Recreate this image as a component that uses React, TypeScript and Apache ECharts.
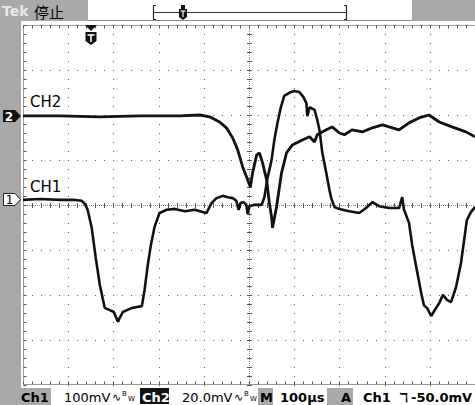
import React, { useEffect, useRef } from "react";
import * as echarts from "echarts";

// Time base: 100 µs/div, 10 divisions, centre of screen = 0 µs
const ch1TimeUs = [
  -500, -462, -418, -385, -370, -363, -357, -348, -339, -330, -323, -319, -308, -299, -290, -286,
  -279, -270, -259, -248, -237, -231, -224, -217, -209, -198, -182, -164, -142, -120, -103, -94,
  -83, -72, -58, -47, -36, -28, -23, -19, -12, -6, -3, 1, 12, 28, 34, 41, 50, 56, 63, 70, 78, 89,
  100, 111, 120, 127, 129, 134, 145, 151, 156, 162, 171, 178, 182, 189, 200, 222, 244, 259, 273,
  288, 310, 332, 339, 343, 354, 361, 370, 381, 387, 394, 403, 414, 421, 429, 438, 447, 458, 469,
  476, 482, 491, 500,
];
// CH1: 100 mV/div
const ch1mV = [
  -2, 0, -2, -2, -4, -11, -24, -64, -131, -191, -224, -242, -247, -251, -273, -264,
  -251, -247, -242, -240, -238, -202, -147, -102, -62, -31, -24, -22, -27, -24, -29, -31,
  -9, 2, 7, 4, 2, -4, -24, -9, -7, -13, -33, -16, -13, -13, 4, 47, 87, 131, 169, 202, 229, 236,
  240, 238, 227, 213, 184, 204, 198, 176, 153, 104, 58, 20, 2, -18, -22, -27, -31, -20, -7,
  -16, -20, -20, 4, -24, -53, -102, -151, -209, -236, -242, -260, -242, -231, -213, -224, -229, -196, -142,
  -91, -47, -29, -18,
];

const ch2TimeUs = [
  -500, -418, -330, -242, -153, -109, -87, -65, -50, -36, -25, -14, -3, 3, 8, 17, 23, 30, 39, 45,
  50, 52, 61, 72, 83, 96, 118, 134, 145, 151, 171, 184, 200, 211, 228, 251, 273, 295, 310, 332,
  354, 376, 398, 421, 449, 480, 500,
];
// CH2: 20 mV/div
const ch2mV = [
  0, 0, -0.4, 0, 0, 0.4, -0.4, -2.7, -5.3, -9.8, -15.1, -22.7, -28.4, -31.6, -25.3, -17.3, -16.4, -20.9, -28.4, -38.7,
  -44.9, -49.8, -40.4, -25.3, -16.4, -12.9, -10.7, -9.3, -11.6, -8.4, -6.2, -4.9, -7.6, -8.4, -6.2, -7.1, -5.3, -4.0, -4.9, -6.2,
  -3.1, -0.9, 0.4, -2.7, -4.9, -7.1, -9.3,
];

const headerStatus = "停止";
const statusRow = {
  ch1Scale: "100mV",
  ch2Scale: "20.0mV",
  timeBase: "100µs",
  trigSource: "Ch1",
  trigLevel: "-50.0mV",
};

const GRAY = "#a9a9a9";
const FONT = '"DejaVu Sans", sans-serif';

function renderGraticule(params: any, api: any) {
  if (params.dataIndex !== 0) return null;
  const ch: any[] = [];
  const dot = "#5e5e5e";
  for (let i = -4; i <= 4; i++) {
    if (i === 0) continue;
    for (let j = -20; j <= 20; j++) {
      const p = api.coord([i * 100, j * 0.2]);
      ch.push({ type: "rect", shape: { x: Math.round(p[0]), y: Math.round(p[1]), width: 1, height: 1 }, style: { fill: dot } });
    }
  }
  for (let j = -3; j <= 3; j++) {
    if (j === 0) continue;
    for (let i = -25; i <= 25; i++) {
      const p = api.coord([i * 20, j]);
      ch.push({ type: "rect", shape: { x: Math.round(p[0]), y: Math.round(p[1]), width: 1, height: 1 }, style: { fill: dot } });
    }
  }
  const c = api.coord([0, 0]);
  const l = api.coord([-500, 0]);
  const r = api.coord([500, 0]);
  const t = api.coord([0, 4]);
  const b = api.coord([0, -4]);
  const cx = Math.round(c[0]) + 0.5;
  const cy = Math.round(c[1]) + 0.5;
  ch.push({ type: "line", shape: { x1: l[0], y1: cy, x2: r[0], y2: cy }, style: { stroke: "#8a8a8a", lineWidth: 1, lineDash: [1, 1] } });
  ch.push({ type: "line", shape: { x1: cx, y1: t[1], x2: cx, y2: b[1] }, style: { stroke: "#8a8a8a", lineWidth: 1, lineDash: [1, 1] } });
  for (let i = -25; i <= 25; i++) {
    const p = api.coord([i * 20, 0]);
    const x = Math.round(p[0]) + 0.5;
    ch.push({ type: "line", shape: { x1: x, y1: cy - 2.5, x2: x, y2: cy + 2.5 }, style: { stroke: "#555", lineWidth: 1 } });
  }
  for (let j = -20; j <= 20; j++) {
    const p = api.coord([0, j * 0.2]);
    const y = Math.round(p[1]) + 0.5;
    ch.push({ type: "line", shape: { x1: cx - 2.5, y1: y, x2: cx + 2.5, y2: y }, style: { stroke: "#555", lineWidth: 1 } });
  }
  const ty = Math.round(t[1]) + 0.5;
  const by = Math.round(b[1]) - 0.5;
  const lx = Math.round(l[0]) + 0.5;
  ch.push({ type: "line", shape: { x1: lx, y1: ty, x2: r[0], y2: ty }, style: { stroke: "#9a9a9a", lineWidth: 1 } });
  ch.push({ type: "line", shape: { x1: lx, y1: by, x2: r[0], y2: by }, style: { stroke: "#9a9a9a", lineWidth: 1 } });
  ch.push({ type: "line", shape: { x1: lx, y1: ty, x2: lx, y2: by }, style: { stroke: "#9a9a9a", lineWidth: 1 } });
  for (let i = -25; i <= 25; i++) {
    const p = api.coord([i * 20, 0]);
    const x = Math.round(p[0]) + 0.5;
    ch.push({ type: "line", shape: { x1: x, y1: ty, x2: x, y2: ty + 3 }, style: { stroke: "#555", lineWidth: 1 } });
    ch.push({ type: "line", shape: { x1: x, y1: by, x2: x, y2: by - 3 }, style: { stroke: "#555", lineWidth: 1 } });
  }
  for (let j = -20; j <= 20; j++) {
    const p = api.coord([0, j * 0.2]);
    const y = Math.round(p[1]) + 0.5;
    ch.push({ type: "line", shape: { x1: lx, y1: y, x2: lx + 3, y2: y }, style: { stroke: "#555", lineWidth: 1 } });
  }
  return { type: "group", children: ch };
}

function txt(x: number, y: number, text: string, size: number, fill = "#000", extra: any = {}) {
  return {
    type: "text",
    x,
    y,
    z: 100,
    style: { text, fill, font: `${extra.weight || "normal"} ${size}px ${extra.family || FONT}`, textAlign: extra.align || "left", textVerticalAlign: "middle" },
  };
}

export default function App() {
  const ref = useRef<HTMLDivElement>(null);
  useEffect(() => {
    if (!ref.current) return;
    const chart = echarts.init(ref.current, undefined, { renderer: "svg" });
    const ch1Data = ch1TimeUs.map((t, i) => [t, ch1mV[i]]);
    const ch2Data = ch2TimeUs.map((t, i) => [t, ch2mV[i]]);
    const SY = 397;
    const graphics: any[] = [
      { type: "rect", z: 90, shape: { x: 0, y: 0, width: 88, height: 21 }, style: { fill: GRAY } },
      { type: "rect", z: 90, shape: { x: 412, y: 0, width: 63, height: 21 }, style: { fill: GRAY } },
      { type: "rect", z: 90, shape: { x: 0, y: 0, width: 21, height: 388 }, style: { fill: GRAY } },
      { type: "line", z: 90, shape: { x1: 88, y1: 20.5, x2: 412, y2: 20.5 }, style: { stroke: "#8c8c8c", lineWidth: 1 } },
      txt(2, 11, "Tek", 14, "#e8e8e8", { weight: "bold" }),
      txt(34, 11, headerStatus, 15, "#000", { family: '"Noto Sans CJK SC", sans-serif' }),
      { type: "polyline", z: 95, shape: { points: [[156, 5.5], [153.5, 5.5], [153.5, 19.5], [156, 19.5]] }, style: { stroke: "#222", lineWidth: 1.2, fill: "none" } },
      { type: "polyline", z: 95, shape: { points: [[344, 5.5], [346.5, 5.5], [346.5, 19.5], [344, 19.5]] }, style: { stroke: "#222", lineWidth: 1.2, fill: "none" } },
      { type: "line", z: 95, shape: { x1: 153.5, y1: 12.5, x2: 346.5, y2: 12.5 }, style: { stroke: "#333", lineWidth: 1 } },
      { type: "polygon", z: 96, shape: { points: [[179, 9], [187, 9], [187, 17], [183, 20], [179, 17]] }, style: { fill: "#111" } },
      { type: "rect", z: 96, shape: { x: 181, y: 5, width: 4, height: 4 }, style: { fill: "#111" } },
      { type: "line", z: 97, shape: { x1: 183, y1: 11, x2: 183, y2: 17 }, style: { stroke: "#fff", lineWidth: 1.2 } },
      { type: "line", z: 97, shape: { x1: 180.5, y1: 11, x2: 185.5, y2: 11 }, style: { stroke: "#fff", lineWidth: 1.2 } },
      { type: "polygon", z: 96, shape: { points: [[85, 25], [97, 25], [91, 31]] }, style: { fill: "#111" } },
      { type: "polygon", z: 96, shape: { points: [[85.5, 32], [96.5, 32], [96.5, 41], [91, 45], [85.5, 41]] }, style: { fill: "#111" } },
      { type: "line", z: 97, shape: { x1: 91, y1: 35, x2: 91, y2: 42 }, style: { stroke: "#fff", lineWidth: 1.6 } },
      { type: "line", z: 97, shape: { x1: 87.5, y1: 35, x2: 94.5, y2: 35 }, style: { stroke: "#fff", lineWidth: 1.6 } },
      { type: "polygon", z: 96, shape: { points: [[3, 110], [15, 110], [21, 116], [15, 122], [3, 122]] }, style: { fill: "#111" } },
      txt(9, 116.5, "2", 12, "#fff", { weight: "bold", align: "center" }),
      { type: "polygon", z: 96, shape: { points: [[3.5, 193.5], [15, 193.5], [20.5, 199.5], [15, 205.5], [3.5, 205.5]] }, style: { fill: "#fff", stroke: "#222", lineWidth: 1 } },
      txt(9.5, 200, "1", 12, "#000", { align: "center" }),
      txt(30, 102, "CH2", 15),
      txt(30, 187, "CH1", 15),
      { type: "rect", z: 90, shape: { x: 0, y: 388, width: 51, height: 17 }, style: { fill: GRAY } },
      { type: "rect", z: 90, shape: { x: 140, y: 388, width: 29, height: 16 }, style: { fill: "#111" } },
      { type: "rect", z: 90, shape: { x: 258, y: 388, width: 15, height: 17 }, style: { fill: GRAY } },
      { type: "rect", z: 90, shape: { x: 327, y: 388, width: 26, height: 17 }, style: { fill: GRAY } },
      txt(21, SY, "Ch1", 13, "#000", { weight: "bold" }),
      txt(64, SY, statusRow.ch1Scale, 13),
      txt(112, SY, "∿", 11),
      txt(122, SY - 3, "B", 7),
      txt(128, SY + 2, "W", 7),
      txt(142, SY, "Ch2", 13, "#fff", { weight: "bold" }),
      txt(182, SY, statusRow.ch2Scale, 13),
      txt(234, SY, "∿", 11),
      txt(244, SY - 3, "B", 7),
      txt(250, SY + 2, "W", 7),
      txt(260, SY, "M", 13, "#000", { weight: "bold" }),
      txt(280, SY, statusRow.timeBase, 13, "#000", { weight: "bold" }),
      txt(341, SY, "A", 13, "#000", { weight: "bold" }),
      txt(363, SY, statusRow.trigSource, 13, "#000", { weight: "bold" }),
      txt(399, SY, "ℸ", 13, "#000", { weight: "bold" }),
      txt(411, SY, statusRow.trigLevel, 13, "#000", { weight: "bold" }),
    ];
    chart.setOption({
      animation: false,
      backgroundColor: "#ffffff",
      grid: { left: 23, top: 25, width: 453, height: 360, containLabel: false },
      xAxis: [{ type: "value", min: -500, max: 500, show: false }],
      yAxis: [
        { type: "value", min: -4, max: 4, show: false },
        { type: "value", min: -413.3, max: 386.7, show: false },
        { type: "value", min: -119.6, max: 40.4, show: false },
      ],
      series: [
        {
          type: "custom",
          coordinateSystem: "cartesian2d",
          xAxisIndex: 0,
          yAxisIndex: 0,
          data: [[0, 0]],
          renderItem: renderGraticule,
          silent: true,
          clip: false,
          z: 1,
        },
        {
          name: "CH2",
          type: "line",
          xAxisIndex: 0,
          yAxisIndex: 2,
          data: ch2Data,
          showSymbol: false,
          lineStyle: { color: "#111", width: 2.8 },
          z: 5,
        },
        {
          name: "CH1",
          type: "line",
          xAxisIndex: 0,
          yAxisIndex: 1,
          data: ch1Data,
          showSymbol: false,
          lineStyle: { color: "#111", width: 2.6 },
          z: 6,
        },
      ],
      graphic: { elements: graphics },
    });
    return () => chart.dispose();
  }, []);
  return <div ref={ref} style={{ position: "fixed", left: 0, top: 0, width: 475, height: 405 }} />;
}
